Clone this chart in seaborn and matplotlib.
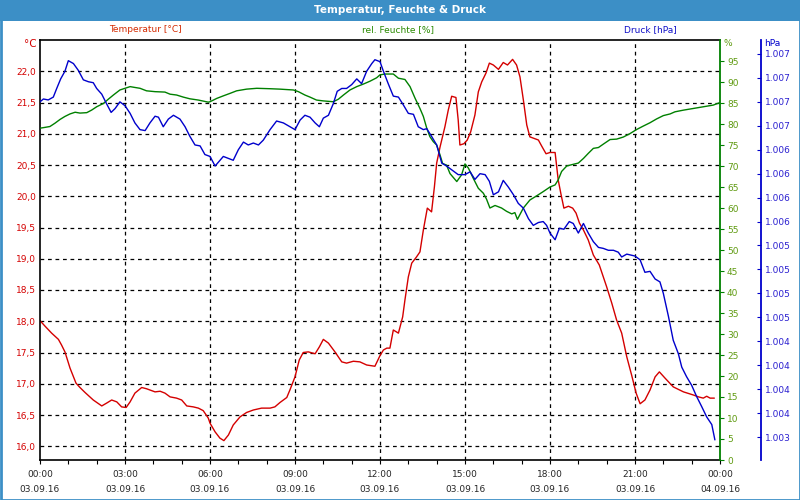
import matplotlib
matplotlib.use("Agg")
import matplotlib.pyplot as plt
import seaborn as sns
import pandas as pd
from matplotlib.patches import Rectangle
from matplotlib.ticker import FixedLocator, MultipleLocator, FuncFormatter

# ---------------- data (hours since 03.09.16 00:00) ----------------
temp_hours = [0.0, 0.18, 0.41, 0.65, 0.76, 0.88, 1.06, 1.27, 1.41, 1.59, 1.88, 2.18, 2.35, 2.53, 2.71, 2.88,
              3.04, 3.18, 3.35, 3.59, 3.76, 4.06, 4.24, 4.41, 4.59, 4.82, 5.0, 5.18, 5.41, 5.59, 5.76, 5.94,
              6.0, 6.18, 6.35, 6.49, 6.65, 6.82, 7.06, 7.29, 7.53, 7.82, 8.12, 8.29, 8.47, 8.71, 8.82, 9.0,
              9.15, 9.29, 9.47, 9.71, 9.86, 10.0, 10.18, 10.41, 10.65, 10.82, 11.06, 11.29, 11.53, 11.82,
              12.0, 12.12, 12.24, 12.35, 12.47, 12.65, 12.8, 12.88, 13.0, 13.12, 13.29, 13.41, 13.53, 13.67,
              13.82, 13.92, 14.0, 14.12, 14.29, 14.41, 14.53, 14.68, 14.76, 14.82, 14.96, 15.08, 15.2, 15.35,
              15.47, 15.59, 15.74, 15.86, 16.0, 16.18, 16.35, 16.5, 16.68, 16.82, 16.94, 17.06, 17.18, 17.29,
              17.41, 17.59, 17.71, 17.86, 18.0, 18.18, 18.29, 18.38, 18.49, 18.65, 18.8, 18.92, 19.04, 19.18,
              19.35, 19.53, 19.74, 20.0, 20.18, 20.35, 20.53, 20.71, 20.88, 21.04, 21.18, 21.35, 21.53, 21.71,
              21.86, 22.06, 22.35, 22.71, 23.06, 23.24, 23.41, 23.53, 23.65, 23.8]
temp_values = [18.01, 17.92, 17.81, 17.71, 17.62, 17.51, 17.25, 17.01, 16.94, 16.86, 16.74, 16.645, 16.69, 16.74,
               16.71, 16.63, 16.62, 16.71, 16.85, 16.94, 16.92, 16.87, 16.88, 16.85, 16.79, 16.77, 16.74, 16.645,
               16.63, 16.61, 16.57, 16.45, 16.37, 16.23, 16.13, 16.09, 16.18, 16.34, 16.47, 16.54, 16.58, 16.61,
               16.61, 16.63, 16.70, 16.78, 16.90, 17.11, 17.38, 17.50, 17.51, 17.48, 17.59, 17.71, 17.65, 17.51,
               17.35, 17.33, 17.36, 17.35, 17.30, 17.28, 17.45, 17.54, 17.57, 17.57, 17.86, 17.81, 18.07, 18.34,
               18.71, 18.93, 19.03, 19.11, 19.46, 19.81, 19.75, 20.15, 20.53, 20.79, 21.11, 21.38, 21.60, 21.58,
               21.22, 20.82, 20.84, 20.90, 21.03, 21.30, 21.67, 21.83, 21.97, 22.13, 22.10, 22.03, 22.14, 22.10,
               22.19, 22.10, 21.91, 21.54, 21.14, 20.95, 20.93, 20.90, 20.80, 20.68, 20.70, 20.70, 20.26, 20.05,
               19.81, 19.84, 19.81, 19.73, 19.57, 19.46, 19.30, 19.06, 18.90, 18.55, 18.29, 18.02, 17.81, 17.43,
               17.14, 16.85, 16.68, 16.74, 16.90, 17.11, 17.19, 17.09, 16.95, 16.87, 16.82, 16.79, 16.77, 16.80,
               16.77, 16.77]

hum_hours = [0.0, 0.18, 0.35, 0.53, 0.71, 0.88, 1.06, 1.24, 1.41, 1.65, 1.82, 2.0, 2.24, 2.41, 2.59, 2.82, 3.0,
             3.18, 3.35, 3.53, 3.76, 4.06, 4.41, 4.59, 4.82, 5.06, 5.29, 5.59, 5.94, 6.0, 6.24, 6.47, 6.71, 6.94,
             7.29, 7.65, 8.12, 8.47, 8.94, 9.12, 9.35, 9.53, 9.76, 10.0, 10.35, 10.53, 10.71, 10.94, 11.18,
             11.41, 11.65, 11.88, 12.0, 12.18, 12.47, 12.65, 12.88, 13.06, 13.24, 13.41, 13.53, 13.65, 13.76,
             13.88, 14.0, 14.12, 14.21, 14.35, 14.47, 14.71, 14.88, 15.0, 15.12, 15.29, 15.47, 15.65, 15.76,
             15.88, 16.06, 16.29, 16.47, 16.65, 16.76, 16.85, 17.06, 17.29, 17.53, 17.76, 18.0, 18.18, 18.29,
             18.41, 18.59, 18.76, 19.0, 19.18, 19.35, 19.53, 19.71, 19.88, 20.12, 20.35, 20.59, 20.82, 21.06,
             21.29, 21.53, 21.76, 22.0, 22.24, 22.41, 22.71, 23.06, 23.41, 23.76, 24.0]
hum_values = [79.0, 79.2, 79.4, 80.2, 81.1, 81.8, 82.4, 82.8, 82.6, 82.7, 83.3, 84.1, 84.9, 85.9, 86.9, 88.1, 88.5,
              88.9, 88.7, 88.5, 87.9, 87.7, 87.6, 87.1, 86.9, 86.4, 86.0, 85.7, 85.2, 85.3, 86.1, 86.7, 87.3, 87.9,
              88.3, 88.5, 88.4, 88.3, 88.1, 87.7, 86.9, 86.4, 85.7, 85.5, 85.3, 85.9, 86.9, 88.1, 88.9, 89.5,
              90.2, 91.0, 91.7, 91.9, 91.9, 90.9, 90.6, 88.9, 86.1, 83.7, 81.8, 79.0, 77.0, 75.8, 75.0, 72.6,
              70.6, 70.2, 68.2, 66.3, 67.9, 70.5, 69.5, 67.1, 64.7, 63.5, 62.1, 60.0, 60.6, 60.0, 59.2, 58.6,
              58.9, 57.3, 60.0, 61.9, 62.9, 63.9, 65.0, 65.5, 66.7, 68.7, 70.0, 70.3, 70.7, 71.8, 73.0, 74.2,
              74.4, 75.2, 76.3, 76.4, 76.9, 77.7, 78.7, 79.5, 80.3, 81.2, 82.0, 82.4, 82.9, 83.3, 83.7, 84.1,
              84.5, 85.1]

pres_hours = [0.0, 0.12, 0.29, 0.47, 0.59, 0.73, 0.88, 1.0, 1.18, 1.35, 1.53, 1.71, 1.88, 2.0, 2.18, 2.35, 2.51,
              2.65, 2.82, 3.0, 3.18, 3.35, 3.53, 3.71, 3.88, 4.06, 4.18, 4.35, 4.53, 4.71, 4.94, 5.12, 5.29,
              5.47, 5.65, 5.82, 6.0, 6.18, 6.47, 6.82, 7.0, 7.18, 7.35, 7.53, 7.71, 7.88, 8.12, 8.35, 8.59,
              8.82, 9.0, 9.18, 9.35, 9.53, 9.71, 9.86, 10.0, 10.18, 10.35, 10.49, 10.65, 10.82, 11.0, 11.18,
              11.35, 11.53, 11.71, 11.82, 12.0, 12.12, 12.29, 12.47, 12.65, 12.82, 13.0, 13.18, 13.35, 13.53,
              13.65, 13.82, 14.0, 14.18, 14.35, 14.53, 14.76, 15.0, 15.18, 15.35, 15.53, 15.71, 15.86, 16.0,
              16.18, 16.35, 16.53, 16.71, 16.88, 17.06, 17.24, 17.41, 17.59, 17.76, 17.88, 18.0, 18.18, 18.33,
              18.49, 18.68, 18.82, 19.0, 19.18, 19.35, 19.53, 19.71, 19.88, 20.06, 20.24, 20.41, 20.53, 20.71,
              21.0, 21.18, 21.35, 21.53, 21.71, 21.88, 22.0, 22.18, 22.35, 22.53, 22.65, 22.82, 23.0, 23.18,
              23.35, 23.53, 23.71, 23.82]
pres_values = [1007.25, 1007.28, 1007.27, 1007.30, 1007.39, 1007.49, 1007.57, 1007.68, 1007.65, 1007.58,
               1007.48, 1007.46, 1007.45, 1007.39, 1007.33, 1007.23, 1007.14, 1007.18, 1007.25, 1007.21,
               1007.13, 1007.03, 1006.96, 1006.95, 1007.03, 1007.10, 1007.09, 1006.99, 1007.07, 1007.11,
               1007.07, 1006.99, 1006.89, 1006.80, 1006.79, 1006.70, 1006.68, 1006.58, 1006.68, 1006.64,
               1006.75, 1006.83, 1006.80, 1006.82, 1006.80, 1006.85, 1006.96, 1007.05, 1007.03, 1006.99,
               1006.96, 1007.06, 1007.11, 1007.09, 1007.03, 1006.99, 1007.08, 1007.11, 1007.23, 1007.36,
               1007.39, 1007.39, 1007.43, 1007.49, 1007.44, 1007.57, 1007.65, 1007.69, 1007.67, 1007.57,
               1007.44, 1007.31, 1007.30, 1007.22, 1007.13, 1007.12, 1006.99, 1006.96, 1006.97, 1006.89,
               1006.80, 1006.61, 1006.58, 1006.54, 1006.49, 1006.49, 1006.52, 1006.44, 1006.50, 1006.49,
               1006.42, 1006.28, 1006.31, 1006.43, 1006.36, 1006.28, 1006.19, 1006.14, 1006.03, 1005.96,
               1005.99, 1006.00, 1005.96, 1005.88, 1005.81, 1005.93, 1005.92, 1006.00, 1005.98, 1005.88,
               1005.98, 1005.88, 1005.79, 1005.73, 1005.72, 1005.70, 1005.70, 1005.68, 1005.63, 1005.66,
               1005.64, 1005.60, 1005.47, 1005.48, 1005.40, 1005.37, 1005.25, 1005.01, 1004.76, 1004.62,
               1004.48, 1004.38, 1004.29, 1004.17, 1004.07, 1003.96, 1003.88, 1003.72]

x_tick_hours = [0, 3, 6, 9, 12, 15, 18, 21, 24]
x_tick_labels = ["00:00\n03.09.16", "03:00\n03.09.16", "06:00\n03.09.16", "09:00\n03.09.16",
                 "12:00\n03.09.16", "15:00\n03.09.16", "18:00\n03.09.16", "21:00\n03.09.16",
                 "00:00\n04.09.16"]
temp_ticks = [16.0, 16.5, 17.0, 17.5, 18.0, 18.5, 19.0, 19.5, 20.0, 20.5, 21.0, 21.5, 22.0]
hum_ticks = list(range(0, 100, 5))
pres_ticks = [1003.75 + 0.25 * k for k in range(17)]

title = "Temperatur, Feuchte & Druck"
series_labels = ["Temperatur [°C]", "rel. Feuchte [%]", "Druck [hPa]"]

# ---------------- styling ----------------
sns.set_theme(style="white")
plt.rcParams["font.family"] = ["DejaVu Sans"]
FS = 6.5
RED, GREEN, BLUE = "#d40000", "#008000", "#0000cc"
BAR = "#3c8fc6"

temp_df = pd.DataFrame({"h": temp_hours, "v": temp_values})
hum_df = pd.DataFrame({"h": hum_hours, "v": hum_values})
pres_df = pd.DataFrame({"h": pres_hours, "v": pres_values})

fig = plt.figure(figsize=(8, 5), dpi=100, facecolor="white")
ax = fig.add_axes([0.05, 0.08, 0.85, 0.84])
ax.set_facecolor("white")
ax2 = ax.twinx()
ax3 = ax.twinx()

# grid on the temperature axis
for t in temp_ticks:
    ax.axhline(t, color="black", lw=0.9, ls=(0, (3, 3)), zorder=0)
for h in x_tick_hours[1:-1]:
    ax.axvline(h, color="black", lw=0.9, ls=(0, (3, 3)), zorder=0)

sns.lineplot(data=pres_df, x="h", y="v", ax=ax3, color=BLUE, lw=1.0, sort=False, legend=False)
sns.lineplot(data=hum_df, x="h", y="v", ax=ax2, color=GREEN, lw=1.0, sort=False, legend=False)
sns.lineplot(data=temp_df, x="h", y="v", ax=ax, color=RED, lw=1.0, sort=False, legend=False)

ax.set_xlim(0, 24)
ax.set_ylim(15.78, 22.50)
ax2.set_ylim(0, 100)
ax3.set_ylim(1003.51, 1007.896)

for a in (ax, ax2, ax3):
    a.set_xlabel("")
    a.set_ylabel("")

# x axis
ax.xaxis.set_major_locator(FixedLocator(x_tick_hours))
ax.set_xticklabels(x_tick_labels, fontsize=FS, linespacing=1.8)
ax.xaxis.set_minor_locator(MultipleLocator(1))
ax.tick_params(axis="x", which="both", direction="out", length=3, width=0.8, color="black",
               bottom=True, pad=4.5)

# left temperature axis
ax.yaxis.set_major_locator(FixedLocator(temp_ticks))
ax.yaxis.set_major_formatter(FuncFormatter(lambda v, p: f"{v:.1f}".replace(".", ",")))
ax.tick_params(axis="y", which="both", left=True, length=0, pad=3, labelsize=FS, labelcolor=RED)

for s in ["left", "top", "bottom"]:
    ax.spines[s].set_color("black")
    ax.spines[s].set_linewidth(1.2)
ax.spines["right"].set_visible(False)

# humidity axis
for s in ["left", "top", "bottom"]:
    ax2.spines[s].set_visible(False)
ax2.spines["right"].set_color(GREEN)
ax2.spines["right"].set_linewidth(1.3)
ax2.yaxis.set_major_locator(FixedLocator(hum_ticks))
ax2.yaxis.set_major_formatter(FuncFormatter(lambda v, p: f"{int(round(v))}"))
ax2.tick_params(axis="y", right=True, direction="out", length=3, width=0.8, color=GREEN,
                pad=2, labelsize=FS, labelcolor="#5f9a10")

# pressure axis (spine 41 px right of the plot)
for s in ["left", "top", "bottom"]:
    ax3.spines[s].set_visible(False)
ax3.spines["right"].set_position(("outward", 41 * 0.72))
ax3.spines["right"].set_color(BLUE)
ax3.spines["right"].set_linewidth(1.3)
ax3.spines["right"].set_bounds(1003.51, 1007.896)
ax3.yaxis.set_major_locator(FixedLocator(pres_ticks))
ax3.yaxis.set_major_formatter(FuncFormatter(lambda v, p: f"{int(v) // 1000}.{int(v) % 1000:03d}"))
ax3.tick_params(axis="y", right=True, direction="in", length=3, width=0.8, color=BLUE,
                pad=3, labelsize=FS, labelcolor="#2a1fd0")

# unit labels at the axis tops
fig.text(37 / 800, 1 - 44 / 500, "°C", color=RED, fontsize=7.5, ha="right", va="center")
fig.text(724 / 800, 1 - 44 / 500, "%", color="#5f9a10", fontsize=FS, ha="left", va="center")
fig.text(764 / 800, 1 - 44 / 500, "hPa", color=BLUE, fontsize=FS, ha="left", va="center")

# series labels
fig.text(145 / 800, 1 - 30 / 500, series_labels[0], color="#d42a00", fontsize=FS, ha="center", va="center")
fig.text(398 / 800, 1 - 30 / 500, series_labels[1], color="#2a8a00", fontsize=FS, ha="center", va="center")
fig.text(650 / 800, 1 - 30 / 500, series_labels[2], color="#1010c8", fontsize=FS, ha="center", va="center")

# title bar and frame
fig.patches.append(Rectangle((0, 1 - 20.5 / 500), 1, 20.5 / 500, transform=fig.transFigure,
                             facecolor=BAR, edgecolor="none", zorder=0))
fig.patches.append(Rectangle((0.5 / 800, 0.5 / 500), 1 - 1 / 800, 1 - 1 / 500, transform=fig.transFigure,
                             facecolor="none", edgecolor=BAR, lw=2.0, zorder=5))
fig.text(0.5, 1 - 10 / 500, title, color="white", fontsize=7.5, fontweight="bold",
         ha="center", va="center")

fig.savefig("out.png", dpi=100, facecolor="white")
